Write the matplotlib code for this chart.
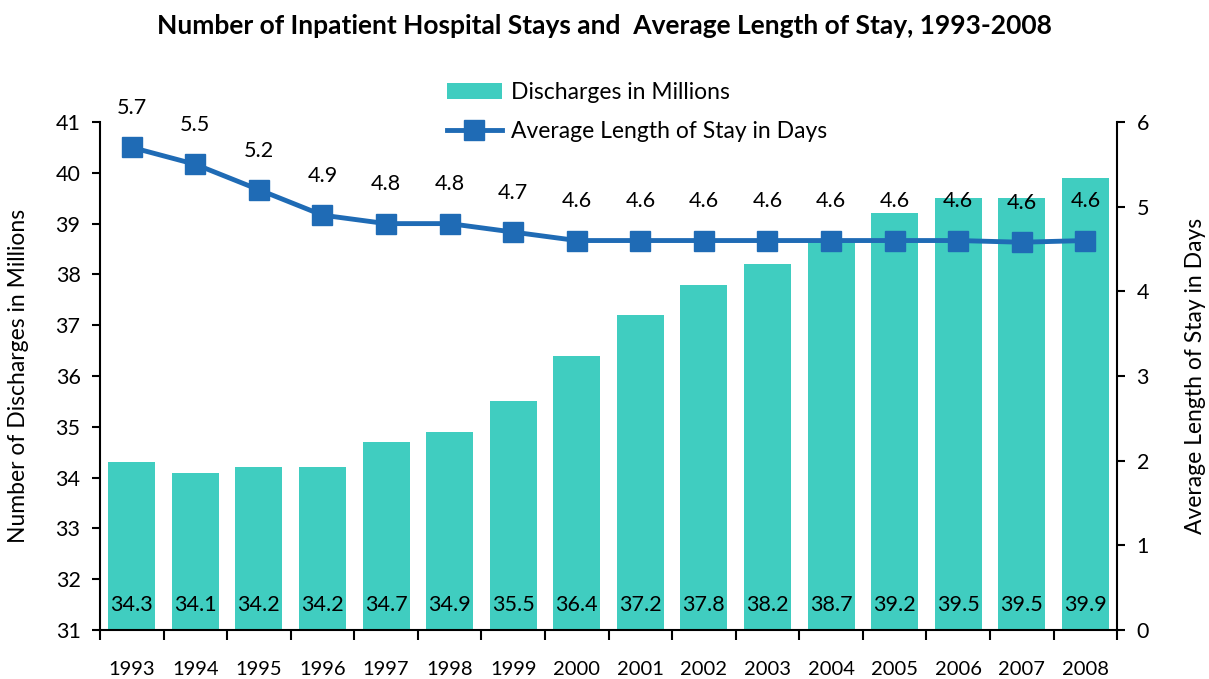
import matplotlib
matplotlib.use("Agg")
import matplotlib.pyplot as plt
from matplotlib.ticker import FixedLocator, NullFormatter
import numpy as np

plt.rcParams['font.family'] = ['Lato', 'DejaVu Sans']

years = ['1993', '1994', '1995', '1996', '1997', '1998', '1999', '2000',
         '2001', '2002', '2003', '2004', '2005', '2006', '2007', '2008']
discharges = [34.3, 34.1, 34.2, 34.2, 34.7, 34.9, 35.5, 36.4,
              37.2, 37.8, 38.2, 38.7, 39.2, 39.5, 39.5, 39.9]
alos = [5.7, 5.5, 5.2, 4.9, 4.8, 4.8, 4.7, 4.6,
        4.6, 4.6, 4.6, 4.6, 4.6, 4.6, 4.58, 4.6]
alos_labels = ['5.7', '5.5', '5.2', '4.9', '4.8', '4.8', '4.7', '4.6',
               '4.6', '4.6', '4.6', '4.6', '4.6', '4.6', '4.6', '4.6']

bar_color = '#40CDC0'
line_color = '#1F6BB5'

fig = plt.figure(figsize=(12.09, 6.79), dpi=100)
ax = fig.add_axes([0.0827, 0.0722, 0.9240 - 0.0827, 0.8203 - 0.0722])
x = np.arange(len(years))

bars = ax.bar(x, discharges, width=0.74, color=bar_color, label='Discharges in Millions', zorder=2)
ax.set_ylim(31, 41)
ax.set_xlim(-0.5, len(years) - 0.5)
ax.set_yticks(range(31, 42))
ax.tick_params(axis='y', labelsize=15.5, length=6, width=1.5, direction='out', pad=8)
ax.set_xticks(x)
ax.set_xticklabels(years)
ax.tick_params(axis='x', which='major', length=0, labelsize=14.5, pad=22)
ax.xaxis.set_minor_locator(FixedLocator(np.arange(-0.5, len(years), 1.0)))
ax.xaxis.set_minor_formatter(NullFormatter())
ax.tick_params(axis='x', which='minor', length=7, width=1.5, direction='out')
for s in ['top', 'right']:
    ax.spines[s].set_visible(False)
for s in ['left', 'bottom']:
    ax.spines[s].set_linewidth(1.5)
ax.set_ylabel('Number of Discharges in Millions', fontsize=16.5, ha='center', va='center')
ax.yaxis.set_label_coords(-0.0806, 0.5)

for xi, v in zip(x, discharges):
    ax.text(xi, 31.5, f'{v:.1f}', ha='center', va='center', fontsize=15.5, zorder=3)

ax2 = ax.twinx()
ax2.set_ylim(0, 6)
ax2.set_yticks(range(0, 7))
line, = ax2.plot(x, alos, color=line_color, lw=3.5, marker='s', markersize=14,
                 label='Average Length of Stay in Days', zorder=4)
ax2.tick_params(axis='y', labelsize=15.5, length=6, width=1.5, direction='out', pad=8)
for s in ['top', 'left', 'bottom']:
    ax2.spines[s].set_visible(False)
ax2.spines['right'].set_linewidth(1.5)
ax2.set_ylabel('Average Length of Stay in Days', fontsize=16.5, rotation=90,
               ha='center', va='center')
ax2.yaxis.set_label_coords(1.077, 0.5)

for xi, v, lab in zip(x, alos, alos_labels):
    ax2.annotate(lab, (xi, v), xytext=(0, 21), textcoords='offset points',
                 ha='center', va='bottom', fontsize=15.5)

fig.legend(handles=[bars, line], loc='center', bbox_to_anchor=(0.527, 0.835),
           frameon=False, fontsize=16.5, handlelength=2.4, labelspacing=0.75,
           handletextpad=0.4)

fig.text(0.5, 0.962, 'Number of Inpatient Hospital Stays and  Average Length of Stay, 1993-2008',
         ha='center', va='center', fontsize=19, fontweight='bold')

fig.savefig('out.png', dpi=100)
